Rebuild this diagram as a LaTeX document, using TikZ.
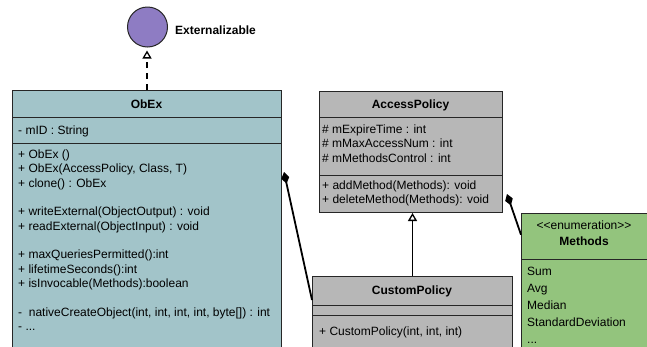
\documentclass[tikz,border=0pt]{standalone}
\usepackage{fontspec}
\setmainfont{Liberation Sans}
\usetikzlibrary{arrows.meta}

\definecolor{obexfill}{HTML}{A2C4C9}
\definecolor{policyfill}{HTML}{B7B7B7}
\definecolor{enumfill}{HTML}{93C47D}
\definecolor{ifacefill}{HTML}{8E7CC3}

\tikzset{
  umlclass/.style={draw=black!85, line width=1pt, anchor=north west, inner sep=0pt},
  umlsep/.style={draw=black!85, line width=1pt},
  umltitle/.style={font=\fontsize{12}{14}\selectfont\bfseries, anchor=base, inner sep=0pt},
  % multi-line text: placed by the baseline of its last line
  umltext/.style={font=\fontsize{12}{14.35}\selectfont, align=left, anchor=base west, inner sep=0pt},
  realize/.style={line width=1.8pt, dash pattern=on 6pt off 5pt, shorten >=3pt,
    -{Triangle[open, length=8pt, width=9pt, line width=1.3pt]}},
  generalize/.style={line width=1.8pt, -{Triangle[open, length=8pt, width=9pt, line width=1.3pt]}},
  compose/.style={line width=1.8pt, -{Diamond[length=12pt, width=8pt]}}
}

\begin{document}
\begin{tikzpicture}[x=1pt, y=-1pt]
  \useasboundingbox (0,0) rectangle (647,346);
  \clip (0,0) rectangle (647,346);

  % interface
  \node[umlclass, circle, anchor=center, fill=ifacefill, minimum size=40pt] (iface) at (147.5,27) {};
  \node[umltitle, anchor=base west] (ifacename) at (175,34.3) {Externalizable};

  % ObEx
  \node[umlclass, fill=obexfill, minimum width=269pt, minimum height=280pt] (obex) at (12,90) {};
  \draw[umlsep] ([yshift=-27pt]obex.north west) -- ([yshift=-27pt]obex.north east);
  \draw[umlsep] ([yshift=-53pt]obex.north west) -- ([yshift=-53pt]obex.north east);
  \node[umltitle] (obextitle) at (146.5,108.3) {ObEx};
  \node[umltext] (obexattr) at (18,134) {- mID : String};
  \node[umltext] (obexops) at (18,330.5) {+ ObEx ()\\
    + ObEx(AccessPolicy, Class, T)\\
    + clone() : ObEx\\[14.35pt]
    + writeExternal(ObjectOutput) : void\\
    + readExternal(ObjectInput) : void\\[14.35pt]
    + maxQueriesPermitted():int\\
    + lifetimeSeconds():int\\
    + isInvocable(Methods):boolean\\[14.35pt]
    -~ nativeCreateObject(int, int, int, int, byte[]) : int\\
    - ...};

  % AccessPolicy
  \node[umlclass, fill=policyfill, minimum width=183pt, minimum height=121pt] (access) at (319,91) {};
  \draw[umlsep] ([yshift=-26pt]access.north west) -- ([yshift=-26pt]access.north east);
  \draw[umlsep] ([yshift=-84pt]access.north west) -- ([yshift=-84pt]access.north east);
  \node[umltitle] (accesstitle) at (410.5,108.3) {AccessPolicy};
  \node[umltext] (accessattr) at (322,162) {\# mExpireTime : int\\
    \# mMaxAccessNum : int\\
    \# mMethodsControl : int};
  \node[umltext] (accessops) at (322,203.6) {+ addMethod(Methods): void\\
    + deleteMethod(Methods): void};

  % CustomPolicy
  \node[umlclass, fill=policyfill, minimum width=200pt, minimum height=100pt] (custom) at (312,276) {};
  \draw[umlsep] ([yshift=-29.7pt]custom.north west) -- ([yshift=-29.7pt]custom.north east);
  \draw[umlsep] ([yshift=-39.7pt]custom.north west) -- ([yshift=-39.7pt]custom.north east);
  \node[umltitle] (customtitle) at (412,294.3) {CustomPolicy};
  \node[umltext] (customops) at (319,335) {+ CustomPolicy(int, int, int)};

  % Methods enumeration
  \node[umlclass, fill=enumfill, minimum width=128pt, minimum height=150pt] (methods) at (521,212.7) {};
  \draw[umlsep] ([yshift=-46.3pt]methods.north west) -- ([yshift=-46.3pt]methods.north east);
  \node[umltext, anchor=base] (methodsstereo) at (584,229.8) {<\kern0pt<enumeration>\kern0pt>};
  \node[umltitle] (methodstitle) at (584,245.3) {Methods};
  \node[umltext, font=\fontsize{12}{17}\selectfont] (methodsvals) at (527,343) {Sum\\
    Avg\\
    Median\\
    StandardDeviation\\
    ...};

  % relations
  \draw[realize] (obex.north) -- (obex.north |- iface.south);
  \draw[generalize] (custom.north) -- (custom.north |- access.south);
  \draw[compose] ([yshift=-24pt]custom.north west) -- ([xshift=2pt,yshift=-82pt]obex.north east);
  \draw[compose] ([yshift=-22pt]methods.north west) -- ([xshift=4pt,yshift=19pt]access.south east);
\end{tikzpicture}
\end{document}
